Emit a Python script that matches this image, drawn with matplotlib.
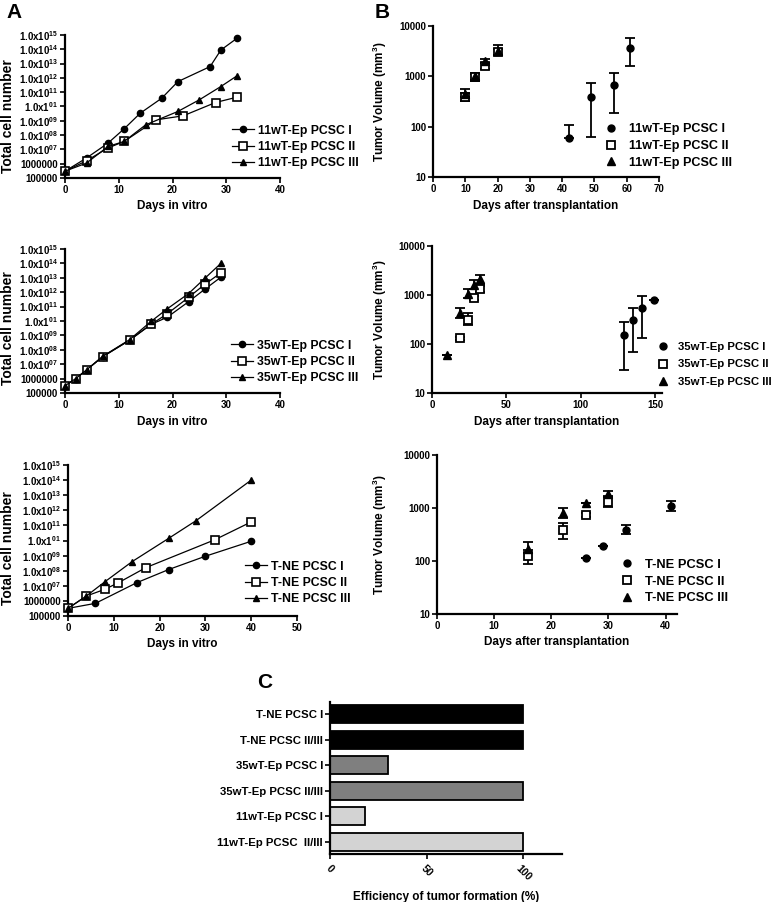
import matplotlib
matplotlib.use("Agg")
import matplotlib.pyplot as plt
import numpy as np
from matplotlib.lines import Line2D

plt.rcParams['font.family'] = ['Liberation Sans', 'DejaVu Sans']
plt.rcParams['font.weight'] = 'bold'
plt.rcParams['axes.labelweight'] = 'bold'
plt.rcParams['mathtext.fontset'] = 'custom'
plt.rcParams['mathtext.bf'] = 'Liberation Sans:bold'
plt.rcParams['mathtext.rm'] = 'Liberation Sans:bold'
plt.rcParams['mathtext.default'] = 'bf'

# ---------------- DATA ----------------
# Panel A (cell growth in vitro)
a1_labels = ["11wT-Ep PCSC I", "11wT-Ep PCSC II", "11wT-Ep PCSC III"]
a1_days_I = [0, 4, 8, 11, 14, 18, 21, 27, 29, 32]
a1_cells_I = [3.0e5, 2.5e6, 2.75e7, 2.75e8, 3.4e9, 3.8e10, 5.5e11, 6.2e12, 8.9e13, 5.9e14]
a1_days_II = [0, 4, 8, 11, 17, 22, 28, 32]
a1_cells_II = [3.0e5, 1.6e6, 1.26e7, 3.6e7, 1.17e9, 2.24e9, 1.9e10, 4.5e10]
a1_days_III = [0, 4, 8, 11, 15, 21, 25, 29, 32]
a1_cells_III = [3.0e5, 1.1e6, 1.6e7, 3.6e7, 5.2e8, 4.5e9, 2.95e10, 2.5e11, 1.4e12]

a2_labels = ["35wT-Ep PCSC I", "35wT-Ep PCSC II", "35wT-Ep PCSC III"]
a2_days = [0, 2, 4, 7, 12, 16, 19, 23, 26, 29]
a2_cells_I = [3.2e5, 1.0e6, 4.0e6, 3.3e7, 4.6e8, 5.8e9, 1.8e10, 2.2e11, 1.6e12, 1.1e13]
a2_cells_II = [3.2e5, 1.0e6, 4.0e6, 3.3e7, 4.6e8, 5.8e9, 3.1e10, 4.4e11, 3.5e12, 2.2e13]
a2_cells_III = [3.2e5, 1.0e6, 4.0e6, 3.5e7, 5.0e8, 9.3e9, 6.9e10, 8.1e11, 9.1e12, 1.0e14]

a3_labels = ["T-NE PCSC I", "T-NE PCSC II", "T-NE PCSC III"]
a3_days_I = [0, 6, 15, 22, 30, 40]
a3_cells_I = [3.2e5, 6.9e5, 1.6e7, 1.2e8, 9.1e8, 8.9e9]
a3_days_II = [0, 4, 8, 11, 17, 32, 40]
a3_cells_II = [3.2e5, 2.1e6, 5.8e6, 1.6e7, 1.6e8, 1.1e10, 1.7e11]
a3_days_III = [0, 4, 8, 14, 22, 28, 40]
a3_cells_III = [3.2e5, 2.1e6, 1.8e7, 4.0e8, 1.4e10, 2.1e11, 1.0e14]

a_ytick_vals = [1e5, 1e6, 1e7, 1e8, 1e9, 1e10, 1e11, 1e12, 1e13, 1e14, 1e15]
a_ytick_labels = ["100000", "1000000", "1.0x10$^{07}$", "1.0x10$^{08}$", "1.0x10$^{09}$",
                  "1.0x1$^{01}$", "1.0x10$^{11}$", "1.0x10$^{12}$", "1.0x10$^{13}$",
                  "1.0x10$^{14}$", "1.0x10$^{15}$"]

# Panel B (tumor volume in vivo): mean, lower and upper error bar ends
b1_days_I = [42, 49, 56, 61]
b1_vol_I = [60, 390, 660, 3700]
b1_lo_I = [60, 63, 190, 1600]
b1_hi_I = [110, 730, 1150, 5900]
b1_days_II = [10, 13, 16, 20]
b1_vol_II = [390, 960, 1580, 3000]
b1_lo_II = [330, 800, 1400, 2600]
b1_hi_II = [470, 1100, 1800, 3500]
b1_days_III = [10, 13, 16, 20]
b1_vol_III = [450, 1000, 2000, 3200]
b1_lo_III = [380, 850, 1800, 2700]
b1_hi_III = [560, 1150, 2200, 4100]

b2_days_I = [129, 135, 141, 149]
b2_vol_I = [150, 310, 550, 790]
b2_lo_I = [29, 68, 130, 790]
b2_hi_I = [280, 550, 970, 790]
b2_days_II = [19, 24, 28, 32]
b2_vol_II = [130, 310, 860, 1300]
b2_lo_II = [120, 250, 800, 1150]
b2_hi_II = [140, 420, 950, 1500]
b2_days_III = [10, 19, 24, 28, 32]
b2_vol_III = [61, 425, 1050, 1600, 2080]
b2_lo_III = [61, 340, 860, 1300, 1700]
b2_hi_III = [61, 540, 1300, 2000, 2600]

b3_days_I = [26, 29, 33, 41]
b3_vol_I = [115, 190, 390, 1100]
b3_lo_I = [115, 190, 320, 890]
b3_hi_I = [115, 190, 470, 1370]
b3_days_II = [16, 22, 26, 30]
b3_vol_II = [125, 390, 730, 1310]
b3_lo_II = [88, 260, 680, 1050]
b3_hi_II = [160, 510, 800, 1600]
b3_days_III = [16, 22, 26, 30]
b3_vol_III = [170, 790, 1260, 1870]
b3_lo_III = [140, 650, 1260, 1700]
b3_hi_III = [230, 980, 1260, 2100]

# Panel C
c_categories = ["T-NE PCSC I", "T-NE PCSC II/III", "35wT-Ep PCSC I",
                "35wT-Ep PCSC II/III", "11wT-Ep PCSC I", "11wT-Ep PCSC  II/III"]
c_values = [100, 100, 30, 100, 18, 100]
c_colors = ["#000000", "#000000", "#7f7f7f", "#7f7f7f", "#d3d3d3", "#d3d3d3"]

# ---------------- FIGURE ----------------
W, H = 777, 902
fig = plt.figure(figsize=(W / 100, H / 100), dpi=100)


def add_ax(l, t, r, b):
    return fig.add_axes([l / W, 1 - b / H, (r - l) / W, (b - t) / H])


def style(ax, fs=7):
    for s in ['top', 'right']:
        ax.spines[s].set_visible(False)
    for s in ['left', 'bottom']:
        ax.spines[s].set_linewidth(1.6)
    ax.tick_params(which='major', length=3.5, width=1.2, labelsize=fs, pad=1.5)
    ax.tick_params(which='minor', length=0)
    for lab in ax.get_xticklabels() + ax.get_yticklabels():
        lab.set_fontweight('bold')


def fig_pt(x, y):
    return (x / W, 1 - y / H)


line_kw = dict(color='black', lw=0.9)
mk_I = dict(marker='o', ms=4.5, mfc='black', mec='black')
mk_II = dict(marker='s', ms=5.5, mfc='white', mec='black', mew=1.2)
mk_III = dict(marker='^', ms=5, mfc='black', mec='black')


def panel_a(ax, series, labels, xmax, xticks, leg_x, leg_y, lab_y):
    for (d, c), mk, lab in zip(series, [mk_I, mk_II, mk_III], labels):
        ax.plot(d, c, label=lab, clip_on=False, zorder=3, **line_kw, **mk)
    ax.set_yscale('log')
    ax.set_ylim(1e5, 1e15)
    ax.set_xlim(0, xmax)
    ax.set_yticks(a_ytick_vals)
    ax.set_yticklabels(a_ytick_labels)
    ax.set_xticks(xticks)
    style(ax)
    ax.set_xlabel("Days in vitro", fontsize=8.5, fontweight='bold', labelpad=4)
    ax.set_ylabel("Total cell number", fontsize=10, fontweight='bold')
    wpx = ax.get_position().width * W
    left = ax.get_position().x0 * W
    ax.yaxis.set_label_coords((15 - left) / wpx, lab_y)
    ax.legend(loc='center left', bbox_to_anchor=fig_pt(leg_x, leg_y),
              bbox_transform=fig.transFigure, frameon=False, fontsize=8.8,
              handlelength=1.8, handletextpad=0.3, labelspacing=0.35,
              borderpad=0, borderaxespad=0)


axA1 = add_ax(65, 35, 280, 178)
panel_a(axA1, [(a1_days_I, a1_cells_I), (a1_days_II, a1_cells_II), (a1_days_III, a1_cells_III)],
        a1_labels, 40, [0, 10, 20, 30, 40], 232, 147, 0.43)

axA2 = add_ax(65, 249, 280, 393)
panel_a(axA2, [(a2_days, a2_cells_I), (a2_days, a2_cells_II), (a2_days, a2_cells_III)],
        a2_labels, 40, [0, 10, 20, 30, 40], 231, 362, 0.45)

axA3 = add_ax(68, 465, 297, 616)
panel_a(axA3, [(a3_days_I, a3_cells_I), (a3_days_II, a3_cells_II), (a3_days_III, a3_cells_III)],
        a3_labels, 50, [0, 10, 20, 30, 40, 50], 245, 583, 0.45)

bmk_I = dict(marker='o', ms=5, mfc='black', mec='black')
bmk_II = dict(marker='s', ms=6, mfc='white', mec='black', mew=1.3)
bmk_III = dict(marker='^', ms=5.5, mfc='black', mec='black')


def panel_b(ax, series, labels, xlim, xticks, leg_x, leg_y, pad, leg_fs, leg_ls):
    for (d, v, lo, hi), mk, lab in zip(series, [bmk_I, bmk_II, bmk_III], labels):
        v = np.array(v, float)
        err = [v - np.array(lo, float), np.array(hi, float) - v]
        ax.errorbar(d, v, yerr=err, ls='none', ecolor='black', elinewidth=1.3,
                    capsize=3.5, capthick=1.3, label=lab, zorder=3, **mk)
    ax.set_yscale('log')
    ax.set_ylim(10, 10000)
    ax.set_xlim(*xlim)
    ax.set_yticks([10, 100, 1000, 10000])
    ax.set_yticklabels(["10", "100", "1000", "10000"])
    ax.set_xticks(xticks)
    style(ax)
    ax.set_xlabel("Days after transplantation", fontsize=8.5, fontweight='bold', labelpad=4)
    ax.set_ylabel("Tumor Volume (mm$^3$)", fontsize=8.5, fontweight='bold')
    wpx = ax.get_position().width * W
    left = ax.get_position().x0 * W
    ax.yaxis.set_label_coords((389 - left) / wpx, 0.5)
    hs = [Line2D([], [], ls='none', color='black', **m) for m in [bmk_I, bmk_II, bmk_III]]
    ax.legend(hs, labels, loc='center left', bbox_to_anchor=fig_pt(leg_x, leg_y),
              bbox_transform=fig.transFigure, frameon=False, fontsize=leg_fs,
              handlelength=1.0, handletextpad=pad, labelspacing=leg_ls,
              borderpad=0, borderaxespad=0)


axB1 = add_ax(433, 26, 659, 177)
panel_b(axB1, [(b1_days_I, b1_vol_I, b1_lo_I, b1_hi_I),
               (b1_days_II, b1_vol_II, b1_lo_II, b1_hi_II),
               (b1_days_III, b1_vol_III, b1_lo_III, b1_hi_III)],
        a1_labels, (0, 70), list(range(0, 71, 10)), 605, 146, 0.9, 9.1, 0.38)

axB2 = add_ax(432, 246, 662, 393)
panel_b(axB2, [(b2_days_I, b2_vol_I, b2_lo_I, b2_hi_I),
               (b2_days_II, b2_vol_II, b2_lo_II, b2_hi_II),
               (b2_days_III, b2_vol_III, b2_lo_III, b2_hi_III)],
        a2_labels, (0, 154.5), [0, 50, 100, 150], 657, 364.5, 0.8, 8.2, 0.68)

axB3 = add_ax(437, 455, 677, 614)
panel_b(axB3, [(b3_days_I, b3_vol_I, b3_lo_I, b3_hi_I),
               (b3_days_II, b3_vol_II, b3_lo_II, b3_hi_II),
               (b3_days_III, b3_vol_III, b3_lo_III, b3_hi_III)],
        a3_labels, (0, 42), [0, 10, 20, 30, 40], 621, 581.5, 0.85, 9.3, 0.38)

# Panel C
axC = add_ax(330, 702, 562, 854)
ypos = np.arange(len(c_categories))
axC.barh(ypos, c_values, height=0.69, color=c_colors, edgecolor='black', linewidth=1.3)
axC.set_ylim(len(c_categories) - 0.52, -0.48)
axC.set_xlim(0, 120)
axC.set_yticks(ypos)
axC.set_yticklabels(c_categories)
axC.set_xticks([0, 50, 100])
style(axC, fs=8.2)
axC.tick_params(axis='x', labelsize=7.5, pad=3)
for lab in axC.get_xticklabels():
    lab.set_rotation(-45)
    lab.set_ha('center')
    lab.set_va('top')
axC.set_xlabel("Efficiency of tumor formation (%)", fontsize=8.5, fontweight='bold', labelpad=6)

# Panel letters
fig.text(6 / W, 1 - 13 / H, "A", fontsize=15, fontweight='bold', va='center', ha='left')
fig.text(375 / W, 1 - 13 / H, "B", fontsize=15, fontweight='bold', va='center', ha='left')
fig.text(265 / W, 1 - 683 / H, "C", fontsize=15, fontweight='bold', va='center', ha='center')

fig.savefig("out.png", dpi=100)
